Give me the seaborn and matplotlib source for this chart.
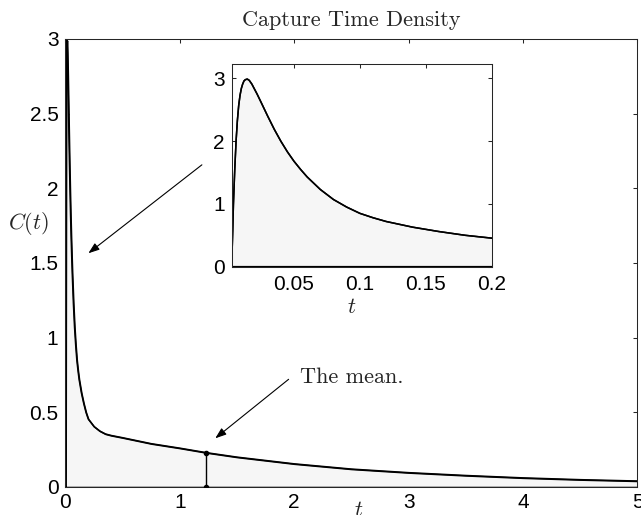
import numpy as np
import pandas as pd
import matplotlib
matplotlib.use("Agg")
import matplotlib.pyplot as plt
import seaborn as sns

# Capture time density C(t), sampled values
t_vals = [0.0027, 0.003, 0.0035, 0.004, 0.005, 0.006, 0.007, 0.008, 0.009,
          0.010, 0.011, 0.012, 0.013, 0.0145, 0.016, 0.018, 0.020, 0.022,
          0.025, 0.030, 0.035, 0.040, 0.045, 0.050, 0.055, 0.060, 0.070,
          0.080, 0.090, 0.100, 0.110, 0.120, 0.140, 0.160, 0.180, 0.200,
          0.25, 0.30, 0.35, 0.40, 0.50, 0.75, 1.00, 1.23, 1.50, 2.00,
          2.50, 3.00, 3.50, 4.00, 4.50, 5.00]
c_vals = [0.05, 0.25, 0.60, 1.00, 1.55, 2.00, 2.33, 2.57, 2.73,
          2.84, 2.91, 2.96, 2.98, 2.99, 2.97, 2.91, 2.83, 2.75,
          2.62, 2.40, 2.19, 2.00, 1.83, 1.68, 1.55, 1.43, 1.23,
          1.07, 0.95, 0.85, 0.78, 0.72, 0.63, 0.56, 0.50, 0.455,
          0.405, 0.375, 0.355, 0.345, 0.33, 0.29, 0.26, 0.23, 0.20, 0.155,
          0.12, 0.096, 0.077, 0.061, 0.049, 0.04]

# Mean capture time
mean_t = 1.23
mean_c = 0.23

main_xticks = [0, 1, 2, 3, 4, 5]
main_yticks = [0, 0.5, 1, 1.5, 2, 2.5, 3]
inset_xticks = [0.05, 0.1, 0.15, 0.2]
inset_yticks = [0, 1, 2, 3]

df = pd.DataFrame({"t": t_vals, "C": c_vals})

sns.set_theme(style="white")
plt.rcParams.update({
    "font.family": ["Liberation Sans", "DejaVu Sans"],
    "mathtext.fontset": "cm",
    "axes.edgecolor": "0.15",
    "axes.linewidth": 0.75,
    "xtick.direction": "in",
    "ytick.direction": "in",
    "xtick.top": True,
    "ytick.right": True,
    "xtick.bottom": True,
    "ytick.left": True,
    "xtick.color": "0.15",
    "ytick.color": "0.15",
    "xtick.labelcolor": "black",
    "ytick.labelcolor": "black",
    "xtick.major.size": 3,
    "ytick.major.size": 3,
    "xtick.major.width": 0.75,
    "ytick.major.width": 0.75,
    "xtick.labelsize": 15,
    "ytick.labelsize": 15,
    "xtick.major.pad": 4.5,
    "ytick.major.pad": 5,
})

fig = plt.figure(figsize=(6.41, 5.15), dpi=100)
ax = fig.add_axes([0.102, 0.0544, 0.8925, 0.870])

fill_color = "0.965"


def draw_density(a):
    a.fill_between(df["t"], 0, df["C"], facecolor=fill_color,
                   edgecolor="black", linewidth=1.1, zorder=1)
    sns.lineplot(data=df, x="t", y="C", ax=a, color="black",
                 linewidth=1.1, zorder=2, estimator=None, sort=False)


draw_density(ax)
ax.plot([mean_t, mean_t], [0, mean_c], color="black", lw=1.0,
        marker="o", markersize=3, zorder=3)

ax.set_xlim(0, 5)
ax.set_ylim(0, 3)
ax.set_xticks(main_xticks)
ax.set_yticks(main_yticks)
ax.set_xticklabels([f"{v:g}" for v in main_xticks])
ax.set_yticklabels([f"{v:g}" for v in main_yticks])

ax.set_title("Capture Time Density", fontfamily="cmr10", fontsize=16, pad=9)
ax.set_xlabel("$t$", fontsize=16, va="top")
ax.xaxis.set_label_coords(0.512, -0.03)
ax.set_ylabel("$C(t)$", fontsize=16, rotation=0, ha="center", va="center")
ax.yaxis.set_label_coords(-0.065, 0.587)

arrow_kw = dict(arrowstyle="-|>,head_length=0.55,head_width=0.2",
                color="black", lw=0.8, shrinkA=0, shrinkB=0)
ax.annotate("", xy=(0.201, 1.565), xytext=(1.193, 2.157),
            arrowprops=arrow_kw)
ax.annotate("", xy=(1.31, 0.326), xytext=(1.951, 0.721),
            arrowprops=arrow_kw)
ax.text(2.053, 0.737, "The mean.", fontfamily="cmr10", fontsize=16,
        ha="left", va="center")

# Inset: zoom on the early-time peak
axin = fig.add_axes([0.3615, 0.4822, 0.4053, 0.3935])
draw_density(axin)
axin.set_xlim(0.0027, 0.2)
axin.set_ylim(0, 3.23)
axin.set_xticks(inset_xticks)
axin.set_yticks(inset_yticks)
axin.set_xticklabels([f"{v:g}" for v in inset_xticks])
axin.set_yticklabels([f"{v:g}" for v in inset_yticks])
axin.tick_params(axis="x", pad=6)
axin.set_xlabel("$t$", fontsize=16, va="top")
axin.xaxis.set_label_coords(0.462, -0.148)
axin.set_ylabel("")

fig.savefig("out.png", dpi=100)
